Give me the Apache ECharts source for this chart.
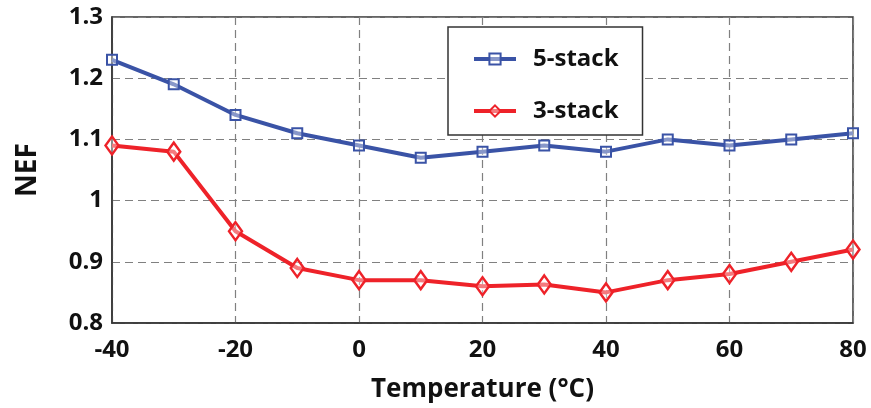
<!DOCTYPE html>
<html>
<head>
<meta charset="utf-8">
<script src="https://cdn.jsdelivr.net/npm/echarts@6/dist/echarts.min.js"></script>
<style>html,body{margin:0;padding:0;background:#fff;}#c{width:871px;height:408px;}</style>
</head>
<body>
<div id="c"></div>
<script>
const temperatures = [-40, -30, -20, -10, 0, 10, 20, 30, 40, 50, 60, 70, 80];
const stack5 = [1.23, 1.19, 1.14, 1.11, 1.09, 1.07, 1.08, 1.09, 1.08, 1.10, 1.09, 1.10, 1.11];
const stack3 = [1.09, 1.08, 0.95, 0.89, 0.87, 0.87, 0.86, 0.863, 0.85, 0.87, 0.88, 0.90, 0.92];
const seriesNames = ['5-stack', '3-stack'];

const FONT = '"Open Sans", "DejaVu Sans", sans-serif';
const BLUE = '#3a53a6';
const RED = '#ee2229';

const chart = echarts.init(document.getElementById('c'), null, {renderer: 'canvas'});
function pairs(xs, ys) { return xs.map((x, i) => [x, ys[i]]); }

chart.setOption({
  animation: false,
  backgroundColor: '#fff',
  grid: {left: 112, right: 18, top: 17, bottom: 82, show: true, borderColor: '#333', borderWidth: 1.5},
  legend: {
    data: seriesNames,
    orient: 'vertical',
    left: 448, top: 27,
    padding: [20, 24, 12, 24],
    itemGap: 28,
    itemWidth: 42, itemHeight: 14,
    borderColor: '#333', borderWidth: 1.5,
    backgroundColor: '#fff',
    lineStyle: {width: 4},
    textStyle: {fontFamily: FONT, fontSize: 24, fontWeight: 'bold', color: '#111', padding: [0, 0, 0, 12]}
  },
  xAxis: {
    type: 'value', min: -40, max: 80, interval: 20,
    name: 'Temperature (°C)', nameLocation: 'middle', nameGap: 54,
    nameTextStyle: {fontFamily: FONT, fontSize: 26, fontWeight: 'bold', color: '#111'},
    axisLine: {show: true, onZero: false, lineStyle: {color: '#333', width: 1.5}},
    axisTick: {show: false},
    axisLabel: {fontFamily: FONT, fontSize: 24, fontWeight: 'bold', color: '#111', margin: 15},
    splitLine: {show: true, lineStyle: {color: '#808080', type: [8, 5], width: 1.2}}
  },
  yAxis: {
    type: 'value', min: 0.8, max: 1.3, interval: 0.1,
    name: 'NEF', nameLocation: 'middle', nameGap: 70, nameRotate: 90,
    nameTextStyle: {fontFamily: FONT, fontSize: 28, fontWeight: 'bold', color: '#111'},
    axisLine: {show: true, onZero: false, lineStyle: {color: '#333', width: 1.5}},
    axisTick: {show: false},
    axisLabel: {fontFamily: FONT, fontSize: 24, fontWeight: 'bold', color: '#111', margin: 9,
      formatter: v => String(Math.round(v * 10) / 10)},
    splitLine: {show: true, lineStyle: {color: '#808080', type: [8, 5], width: 1.2}}
  },
  series: [
    {
      name: seriesNames[0], type: 'line', data: pairs(temperatures, stack5),
      symbol: 'rect', symbolSize: 10, showAllSymbol: true,
      lineStyle: {color: BLUE, width: 4},
      itemStyle: {color: 'rgba(255,255,255,0.4)', borderColor: BLUE, borderWidth: 2},
      z: 3
    },
    {
      name: seriesNames[1], type: 'line', data: pairs(temperatures, stack3),
      symbol: 'diamond', symbolSize: [13, 18], showAllSymbol: true,
      lineStyle: {color: RED, width: 4},
      itemStyle: {color: 'rgba(255,255,255,0.4)', borderColor: RED, borderWidth: 2.5},
      z: 3
    }
  ]
});
</script>
</body>
</html>
